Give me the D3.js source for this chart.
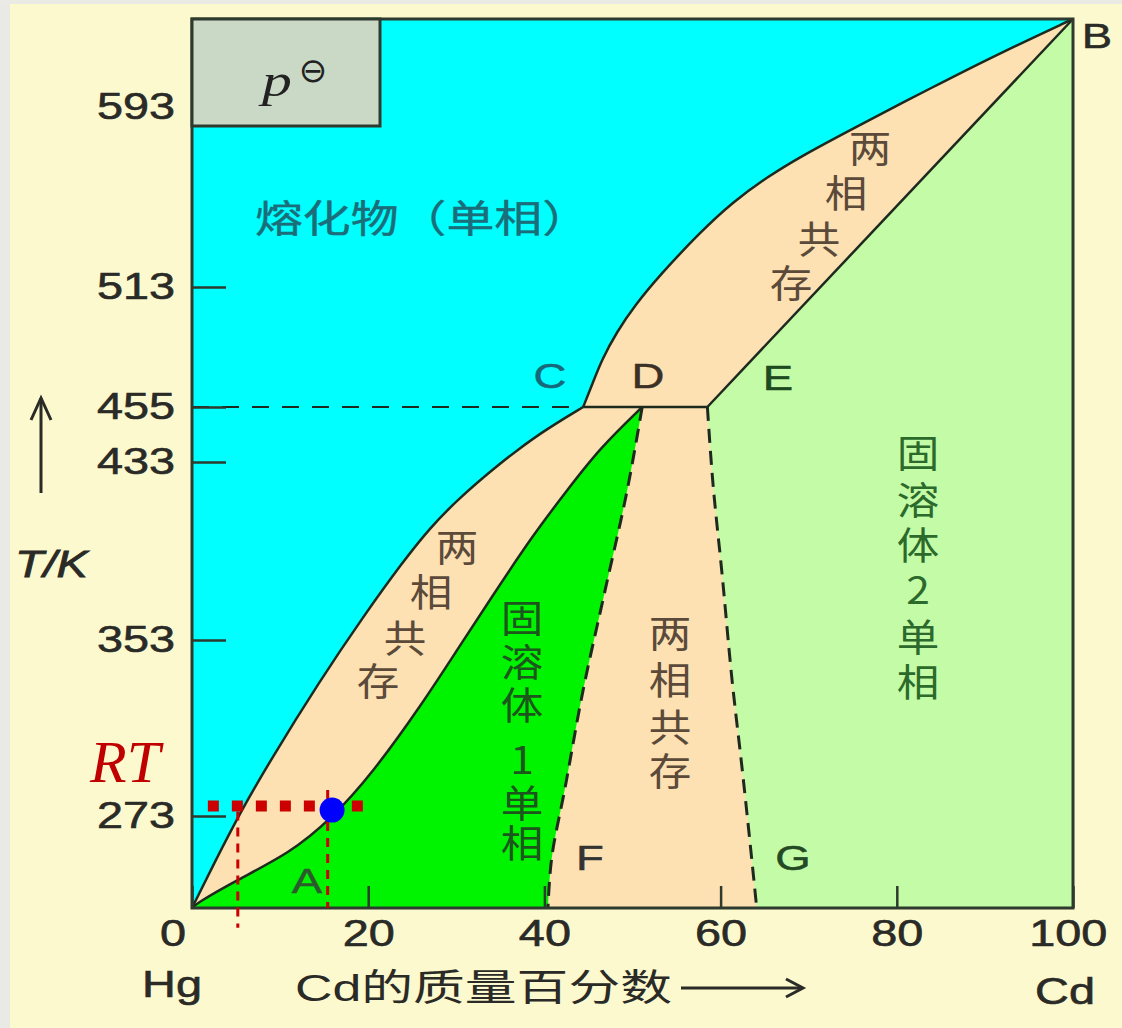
<!DOCTYPE html>
<html>
<head>
<meta charset="utf-8">
<script src="https://cdn.jsdelivr.net/npm/d3@7"></script>
<style>
  body { margin: 0; background: #fcf9cf; }
  svg { display: block; }
</style>
</head>
<body>
<svg></svg>
<script>
// axis ticks
let yTicks = [273, 353, 433, 455, 513, 593];
let xTicks = [0, 20, 40, 60, 80, 100];

// liquidus, Hg side (Hg melting point -> C)
let liquidusLow = [[0, 231], [2.7, 252.9], [5.45, 274.4], [8.85, 298], [14.5, 334.4], [19.4, 363.3],
  [24, 388.5], [27, 403.3], [30.1, 416], [35, 432.6], [39.5, 444.6], [44.4, 455]];
// liquidus, Cd side (C -> B)
let liquidusHigh = [[44.4, 455], [45.4, 465.6], [46.5, 477.7], [48.2, 491.2], [50.3, 504.3], [53.1, 518.3],
  [57.7, 537.4], [61.4, 550.8], [65.3, 561.9], [69, 570.8], [74.7, 582.8], [84.1, 602.1], [91.7, 617.5], [100, 633]];
// solidus of solid solution 1 (Hg -> D)
let solidus1 = [[0, 231], [0.57, 233.3], [5.1, 243.8], [11.1, 256.1], [15.7, 271.2], [20.5, 292.5], [26.2, 324.4],
  [30.1, 348.5], [33.8, 371], [38.7, 400.2], [42.6, 420.4], [46.3, 438.6], [51.1, 455]];
// solidus of solid solution 2 (E -> B)
let solidus2 = [[58.5, 455], [100, 633]];
// solvus lines (D -> F, E -> G)
let solvusF = [[51.1, 455], [49.4, 420.4], [46.9, 375.5], [44.4, 330.3], [42.3, 284.8], [40.8, 252.9], [40.4, 231]];
let solvusG = [[58.5, 455], [59.1, 424.9], [60.2, 381.3], [61.3, 334.8], [62.5, 292.5], [64.1, 231]];

// three phase line
let lineT = 455;
let pointC = 44.4, pointE = 58.5;
let tMin = 231, tMax = 633;

// room temperature marks
let rtT = 277.5;
let rtSpan = [1.8, 19.6];
let rtDropX = [5.2, 15.4];
let rtDropTop = [275, 284.8];
let rtDropBottom = [222, 231];
let rtPoint = [15.9, 275.7];

let svgWidth = 1122;
let svgHeight = 1028;

let svg = d3.select("svg")
  .attr("width", svgWidth)
  .attr("height", svgHeight);

let x = d3.scaleLinear().domain([0, 100]).range([192, 1073]);
let y = d3.scaleLinear()
  .domain([231, 273, 353, 433, 455, 513, 593, 633])
  .range([908, 816, 640, 462, 407, 287, 107, 19]);

let lineX = d3.line()
  .x(d => x(d[0]))
  .y(d => y(d[1]))
  .curve(d3.curveBasis);
let lineY = d3.line()
  .x(d => x(d[0]))
  .y(d => y(d[1]))
  .curve(d3.curveMonotoneY);
let cont = s => s.replace(/^M/, "L");

// background
svg.append("rect").attr("width", svgWidth).attr("height", svgHeight).attr("fill", "#fcf9cf");
svg.append("rect").attr("width", 10).attr("height", svgHeight).attr("fill", "#e9e9e6");
svg.append("rect").attr("width", svgWidth).attr("height", 4).attr("fill", "#ebebe6");

// melt
svg.append("rect")
  .attr("x", x(0)).attr("y", y(tMax))
  .attr("width", x(100) - x(0)).attr("height", y(tMin) - y(tMax))
  .attr("fill", "#00ffff");

// everything below the liquidus: two phase colour
svg.append("path")
  .attr("d", lineX(liquidusLow) + cont(lineX(liquidusHigh)) + `L${x(100)},${y(tMin)}Z`)
  .attr("fill", "#fde1b3");

// solid solution 1
svg.append("path")
  .attr("d", lineX(solidus1) + cont(lineY(solvusF)) + "Z")
  .attr("fill", "#00f400");

// solid solution 2
svg.append("path")
  .attr("d", `M${x(solidus2[0][0])},${y(solidus2[0][1])}L${x(100)},${y(tMax)}L${x(100)},${y(tMin)}`
    + cont(lineY(solvusG.slice().reverse())) + "Z")
  .attr("fill", "#c4fba6");

let ink = "#1f2a1f";

[liquidusLow, liquidusHigh, solidus1, solidus2].forEach(pts => {
  svg.append("path").attr("d", lineX(pts)).attr("fill", "none")
    .attr("stroke", ink).attr("stroke-width", 2.5);
});
[solvusF, solvusG].forEach(pts => {
  svg.append("path").attr("d", lineY(pts)).attr("fill", "none")
    .attr("stroke", ink).attr("stroke-width", 3).attr("stroke-dasharray", "14,8");
});

// C-D-E line and dashed extension to the axis
svg.append("line")
  .attr("x1", x(pointC)).attr("x2", x(pointE))
  .attr("y1", y(lineT)).attr("y2", y(lineT))
  .attr("stroke", ink).attr("stroke-width", 2.5);
svg.append("line")
  .attr("x1", x(0)).attr("x2", x(pointC))
  .attr("y1", y(lineT)).attr("y2", y(lineT))
  .attr("stroke", ink).attr("stroke-width", 2).attr("stroke-dasharray", "17,13");

// frame
svg.append("rect")
  .attr("x", x(0)).attr("y", y(tMax))
  .attr("width", x(100) - x(0)).attr("height", y(tMin) - y(tMax))
  .attr("fill", "none").attr("stroke", "#2d3a2d").attr("stroke-width", 3);

// axes
let yAxis = d3.axisLeft(y).tickValues(yTicks).tickSizeInner(-34).tickSizeOuter(0).tickPadding(13);
let gy = svg.append("g").attr("transform", `translate(${x(0)},0)`).call(yAxis);
gy.select(".domain").remove();
gy.selectAll("line").attr("stroke", "#2d3a2d").attr("stroke-width", 2.5);
gy.selectAll("text")
  .attr("font-family", "Liberation Sans, Arial, sans-serif")
  .attr("font-size", 36)
  .attr("fill", "#2a2a26")
  .attr("stroke", "#2a2a26").attr("stroke-width", 0.6)
  .attr("transform", "scale(1.3,1)");

let xAxis = d3.axisBottom(x).tickValues(xTicks).tickSizeInner(-22).tickSizeOuter(0).tickPadding(12);
let gx = svg.append("g").attr("transform", `translate(0,${y(tMin)})`).call(xAxis);
gx.select(".domain").remove();
gx.selectAll("line").attr("stroke", "#2d3a2d").attr("stroke-width", 2.5);
gx.selectAll("text")
  .attr("font-family", "Liberation Sans, Arial, sans-serif")
  .attr("font-size", 36)
  .attr("fill", "#2a2a26")
  .attr("stroke", "#2a2a26").attr("stroke-width", 0.6)
  .attr("transform", "scale(1.3,1)")
  .attr("x", d => d === 0 ? -15 : d === 100 ? -4 : 0);

// p box
svg.append("rect")
  .attr("x", x(0)).attr("y", y(tMax))
  .attr("width", 188).attr("height", 107)
  .attr("fill", "#c9d9c6").attr("stroke", "#2d3a2d").attr("stroke-width", 3);
svg.append("text").text("p")
  .attr("transform", "translate(262,96) scale(1.3,1)")
  .attr("font-family", "Liberation Serif, serif").attr("font-style", "italic")
  .attr("font-size", 46).attr("fill", "#222");
svg.append("text").text("⊖")
  .attr("x", 313).attr("y", 82)
  .attr("text-anchor", "middle")
  .attr("font-family", "DejaVu Sans, sans-serif")
  .attr("font-size", 34).attr("fill", "#222");

// text helper (stretched like the source picture)
function label(str, cx, cy, size, color, opts = {}) {
  let t = svg.append("text").text(str)
    .attr("transform", `translate(${cx},${cy}) scale(${opts.sx || 1.25},1)`)
    .attr("font-family", opts.family || "Liberation Sans, Arial, sans-serif")
    .attr("font-size", size)
    .attr("fill", color)
    .attr("text-anchor", opts.anchor || "middle");
  if (opts.italic) t.attr("font-style", "italic");
  if (opts.stroke) t.attr("stroke", color).attr("stroke-width", opts.stroke);
  return t;
}

// vertical region labels, one text element per column
let cjk = "Noto Sans CJK SC, sans-serif";
function column(chars, xs, ys, color) {
  let sx = 1.12;
  let t = svg.append("text")
    .attr("transform", `scale(${sx},1)`)
    .attr("font-family", cjk).attr("font-size", 38)
    .attr("fill", color).attr("text-anchor", "middle");
  t.selectAll("tspan")
    .data(chars)
    .enter()
    .append("tspan")
    .attr("x", (d, i) => xs[i] / sx)
    .attr("y", (d, i) => ys[i] + 14)
    .text(d => d);
}

svg.append("text").text("熔化物（单相）")
  .attr("x", 255).attr("y", 232)
  .attr("textLength", 335).attr("lengthAdjust", "spacingAndGlyphs")
  .attr("font-family", cjk).attr("font-size", 38).attr("fill", "#1b6d79")
  .attr("stroke", "#1b6d79").attr("stroke-width", 0.4);

column(["两", "相", "共", "存"], [870, 846, 819, 791], [148, 193, 239, 283], "#5b4a3a");
column(["两", "相", "共", "存"], [457, 431, 405, 378], [547, 592, 638, 681], "#5b4a3a");
column(["两", "相", "共", "存"], [670, 670, 670, 670], [633, 680, 727, 771], "#5b4a3a");
column(["固", "溶", "体", "1", "单", "相"], [522, 522, 522, 522, 522, 522], [618, 662, 705, 760, 803, 843], "#1d561d");
column(["固", "溶", "体", "2", "单", "相"], [918, 918, 918, 918, 918, 918], [453, 500, 545, 590, 637, 682], "#2b6a2b");

// point letters
label("B", 1097, 48, 35, "#2a2a26", { sx: 1.3, stroke: 0.5 });
label("C", 550, 388, 35, "#176878", { sx: 1.3, stroke: 0.5 });
label("D", 648, 388, 35, "#3a3026", { sx: 1.3, stroke: 0.5 });
label("E", 778, 390, 35, "#1f4a1f", { sx: 1.3, stroke: 0.5 });
label("F", 590, 870, 35, "#333", { sx: 1.3, stroke: 0.5 });
label("G", 793, 870, 35, "#244a24", { sx: 1.3, stroke: 0.5 });
label("A", 307, 893, 35, "#2c5a2c", { sx: 1.3, stroke: 0.5 });

// axis titles
label("T/K", 15, 577, 36, "#2a2a26", { sx: 1.3, anchor: "start", italic: true, stroke: 0.8 });
svg.append("line").attr("x1", 41).attr("x2", 41).attr("y1", 398).attr("y2", 493)
  .attr("stroke", "#2a2a26").attr("stroke-width", 3);
svg.append("path").attr("d", "M31,420L41,398L51,420").attr("fill", "none")
  .attr("stroke", "#2a2a26").attr("stroke-width", 3);

label("Hg", 172, 997, 36, "#2a2a26", { sx: 1.3, stroke: 0.6 });
label("Cd", 1065, 1004, 36, "#2a2a26", { sx: 1.3, stroke: 0.6 });
svg.append("text").text("Cd的质量百分数")
  .attr("x", 295).attr("y", 1001)
  .attr("textLength", 377).attr("lengthAdjust", "spacingAndGlyphs")
  .attr("font-family", "Liberation Sans, " + cjk).attr("font-size", 37)
  .attr("fill", "#2a2a26");
svg.append("line").attr("x1", 681).attr("x2", 802).attr("y1", 988).attr("y2", 988)
  .attr("stroke", "#2a2a26").attr("stroke-width", 3);
svg.append("path").attr("d", "M786,979L803,988L786,997").attr("fill", "none")
  .attr("stroke", "#2a2a26").attr("stroke-width", 3);

// room temperature annotation
svg.append("text").text("RT")
  .attr("x", 90).attr("y", 782)
  .attr("font-family", "Liberation Serif, serif").attr("font-style", "italic")
  .attr("font-size", 60).attr("fill", "#c00000");

svg.append("line")
  .attr("x1", x(rtSpan[0])).attr("x2", x(rtSpan[1]))
  .attr("y1", y(rtT)).attr("y2", y(rtT))
  .attr("stroke", "#cc0000").attr("stroke-width", 11).attr("stroke-dasharray", "11,13");

svg.selectAll(".drop")
  .data(rtDropX)
  .enter()
  .append("line")
  .attr("class", "drop")
  .attr("x1", d => x(d)).attr("x2", d => x(d))
  .attr("y1", (d, i) => y(rtDropTop[i]))
  .attr("y2", (d, i) => y(rtDropBottom[i]))
  .attr("stroke", "#cc0000").attr("stroke-width", 3).attr("stroke-dasharray", "9,7");

svg.append("circle")
  .attr("cx", x(rtPoint[0])).attr("cy", y(rtPoint[1]))
  .attr("r", 12.5)
  .attr("fill", "#0000ff");
</script>
</body>
</html>
